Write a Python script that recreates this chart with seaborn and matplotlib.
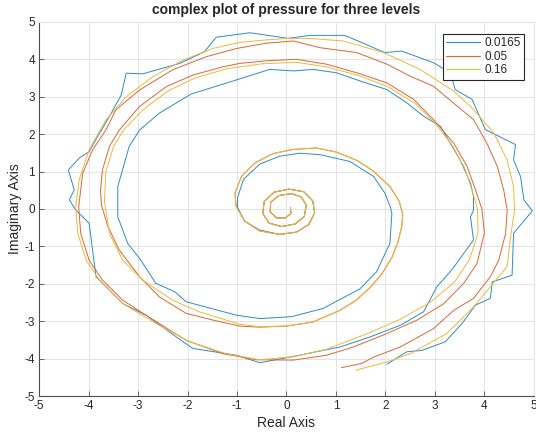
import numpy as np
import pandas as pd
import matplotlib
matplotlib.use('Agg')
import matplotlib.pyplot as plt
import seaborn as sns

# 스타일 설정 (MATLAB 비슷하게)
sns.set_theme(style="whitegrid")
plt.rcParams['font.family'] = ['Liberation Sans', 'DejaVu Sans']
plt.rcParams['axes.unicode_minus'] = False

# --- 데이터: 그림에서 읽은 점들 ---
levels = ['0.0165', '0.05', '0.16']
colors = ['#2f8ac6', '#dc6536', '#edb93a']

# 세 곡선이 공유하는 안쪽 작은 고리 (중심 끝점에서 바깥으로)
core_x = [0.08, 0.09, -0.02, -0.20, -0.33, -0.32, -0.15, 0.10, 0.30, 0.40, 0.36, 0.18, -0.10, -0.35,
          -0.48, -0.45, -0.25, 0.05, 0.35, 0.53, 0.57, 0.45, 0.20, -0.14]
core_y = [0.03, -0.12, -0.24, -0.24, -0.08, 0.18, 0.36, 0.41, 0.32, 0.10, -0.20, -0.40, -0.47, -0.38,
          -0.12, 0.20, 0.45, 0.53, 0.46, 0.22, -0.10, -0.42, -0.62, -0.68]

blue_x = [-0.55, -0.85, -0.99, -0.99, -0.87, -0.54, -0.14, 0.27, 0.68, 1.28, 1.76, 1.99, 2.10, 2.13,
          2.09, 1.82, 1.49, 0.74, 0.10, -0.54, -1.01, -2.03, -2.26, -2.64, -2.97, -3.21, -3.41, -3.41,
          -3.18, -2.97, -2.57, -1.93, -1.01, -0.34, 0.14, 0.54, 1.01, 1.49, 2.03, 2.43, 2.77, 3.11,
          3.31, 3.51, 3.72, 3.78, 3.78, 3.72, 3.78, 3.34, 3.04, 2.77, 2.30, 1.69, 1.08, 0.07, -0.54,
          -1.01, -1.89, -2.09, -2.84, -3.31, -3.85, -3.99, -4.26, -4.39, -4.29, -4.41, -4.19, -3.99,
          -3.82, -3.58, -3.34, -3.24, -2.91, -2.16, -1.66, -1.42, -0.74, 0.03, 0.47, 1.18, 1.99, 2.33,
          2.97, 3.31, 3.41, 3.75, 4.02, 4.63, 4.59, 4.73, 4.80, 4.97, 4.59, 4.56, 4.16, 4.12, 3.82,
          3.55, 3.21, 2.74, 2.43, 2.03]
blue_y = [-0.56, -0.32, 0.05, 0.30, 0.79, 1.20, 1.41, 1.49, 1.45, 1.27, 0.87, 0.42, 0.05, -0.12,
          -0.92, -1.68, -2.13, -2.66, -2.88, -2.93, -2.84, -2.48, -2.21, -1.99, -1.32, -0.92, -0.21, 0.60,
          1.67, 2.11, 2.56, 3.07, 3.45, 3.73, 3.69, 3.73, 3.64, 3.42, 3.19, 2.84, 2.48, 2.21,
          1.76, 1.31, 0.69, 0.33, -0.03, -0.21, -0.83, -1.63, -2.08, -2.75, -3.11, -3.42, -3.69, -3.96, -4.11,
          -3.91, -3.73, -3.55, -2.84, -2.53, -1.81, -0.38, -0.03, 0.24, 0.51, 1.04, 1.36, 1.53,
          1.93, 2.47, 3.05, 3.63, 3.61, 3.89, 4.20, 4.59, 4.71, 4.56, 4.64, 4.64, 4.18, 4.22,
          3.91, 3.64, 3.19, 2.93, 2.12, 1.72, 1.31, 0.87, 0.24, -0.05, -0.65, -1.77, -1.95, -2.39, -2.57,
          -3.06, -3.55, -3.78, -3.82, -4.15]

orange_x = [-0.54, -0.84, -1.02, -1.04, -0.91, -0.64, -0.27, 0.13, 0.60, 1.01, 1.42, 1.75, 2.09, 2.28,
            2.35, 2.33, 2.25, 2.13, 1.92, 1.69, 1.40, 1.08, 0.54, 0.00, -0.54, -0.95, -1.49, -2.03, -2.57,
            -2.97, -3.38, -3.61, -3.74, -3.76, -3.72, -3.58, -3.38, -2.97, -2.43, -1.89, -1.28, -0.95,
            -0.41, 0.20, 0.81, 1.42, 2.03, 2.57, 2.97, 3.38, 3.65, 3.82, 3.95, 4.00, 3.85, 3.58, 3.18,
            2.64, 2.03, 1.35, 0.81, 0.14, -0.61, -1.28, -2.03, -2.84, -3.31, -3.72, -3.99, -4.16, -4.20,
            -4.12, -3.92, -3.65, -3.45, -2.97, -2.30, -1.62, -1.01, -0.41, 0.14, 0.68, 1.42, 2.03, 2.50,
            2.97, 3.45, 3.78, 4.05, 4.26, 4.39, 4.46, 4.43, 4.29, 4.12, 3.78, 3.38, 2.97, 2.30, 1.76,
            1.52, 1.11]
orange_y = [-0.59, -0.33, 0.07, 0.43, 0.87, 1.23, 1.48, 1.59, 1.63, 1.52, 1.30, 1.02, 0.60, 0.20,
            -0.15, -0.47, -0.90, -1.30, -1.75, -2.10, -2.45, -2.71, -3.02, -3.13, -3.16, -3.13, -2.97, -2.79, -2.35,
            -1.81, -1.10, -0.47, 0.10, 0.50, 1.04, 1.67, 2.11, 2.74, 3.27, 3.58, 3.80, 3.89,
            3.96, 4.00, 3.87, 3.64, 3.37, 2.93, 2.39, 1.76, 1.14, 0.51, 0.00, -0.65, -1.46, -1.99, -2.53,
            -2.97, -3.33, -3.69, -3.91, -4.04, -4.03, -3.87, -3.51, -2.84, -2.44, -1.90, -1.37, -0.65, 0.06,
            0.95, 1.58, 2.11, 2.65, 3.18, 3.72, 4.07, 4.29, 4.43, 4.49, 4.31, 4.18, 3.87, 3.55,
            3.28, 2.75, 2.39, 1.76, 1.14, 0.51, -0.03, -0.65, -1.37, -1.81, -2.39, -2.71, -3.20, -3.69, -3.96,
            -4.13, -4.24]

yellow_x = [-0.54, -0.84, -1.02, -1.04, -0.91, -0.64, -0.27, 0.13, 0.60, 1.01, 1.42, 1.75, 2.09, 2.28,
            2.35, 2.33, 2.25, 2.13, 1.92, 1.69, 1.40, 1.08, 0.54, 0.00, -0.54, -0.95, -1.76, -2.30, -2.91,
            -3.31, -3.58, -3.68, -3.65, -3.50, -3.30, -2.90, -2.40, -1.85, -1.20, -0.50, 0.20, 0.80,
            1.45, 2.05, 2.60, 3.00, 3.35, 3.60, 3.75, 3.86, 3.87, 3.70, 3.40, 2.90, 2.30, 1.60, 0.81,
            0.14, -0.54, -1.22, -1.96, -2.64, -3.31, -3.78, -4.05, -4.22, -4.26, -4.19, -3.99, -3.65,
            -3.24, -2.70, -2.09, -1.49, -0.95, -0.41, 0.07, 0.47, 1.15, 1.96, 2.70, 3.38, 3.78, 4.19,
            4.46, 4.59, 4.61, 4.53, 4.46, 4.12, 3.78, 3.24, 2.50, 2.03, 1.40]
yellow_y = [-0.59, -0.33, 0.07, 0.43, 0.87, 1.23, 1.48, 1.59, 1.63, 1.52, 1.30, 1.02, 0.60, 0.20,
            -0.15, -0.47, -0.90, -1.30, -1.75, -2.10, -2.45, -2.71, -3.02, -3.13, -3.15, -3.08, -2.75, -2.44, -1.90,
            -1.37, -0.65, 0.20, 1.00, 1.65, 2.10, 2.65, 3.15, 3.50, 3.75, 3.88, 3.92, 3.80,
            3.57, 3.27, 2.82, 2.30, 1.70, 1.10, 0.50, 0.00, -0.65, -1.35, -1.95, -2.50, -2.95, -3.35, -3.75,
            -3.95, -4.03, -3.87, -3.55, -3.06, -2.53, -1.90, -1.37, -0.65, 0.05, 0.78, 1.58, 2.38,
            3.00, 3.54, 3.98, 4.29, 4.45, 4.52, 4.56, 4.56, 4.49, 4.18, 3.73, 3.15, 2.66, 2.03,
            1.31, 0.60, -0.03, -0.74, -1.54, -2.08, -2.62, -3.33, -3.87, -4.09, -4.31]

series_x = [blue_x, orange_x, yellow_x]
series_y = [blue_y, orange_y, yellow_y]

frames = []
for lev, sx, sy in zip(levels, series_x, series_y):
    frames.append(pd.DataFrame({'re': core_x + sx, 'im': core_y + sy, 'level': lev}))
df = pd.concat(frames, ignore_index=True)

# --- 그래프 ---
fig = plt.figure(figsize=(5.36, 4.32), dpi=100)
ax = fig.add_axes([0.073, 0.0833, 0.923, 0.866])
sns.lineplot(data=df, x='re', y='im', hue='level', hue_order=levels,
             palette=colors, sort=False, estimator=None, linewidth=0.7, ax=ax)

ax.set_xlim(-5, 5)
ax.set_ylim(-5, 5)
ax.set_xticks(np.arange(-5, 6, 1))
ax.set_yticks(np.arange(-5, 6, 1))
ax.grid(True, color='#e3e3e3', linewidth=0.7)
ax.set_facecolor('white')
for side in ['left', 'bottom']:
    ax.spines[side].set_color('#4d4d4d')
    ax.spines[side].set_linewidth(0.8)
for side in ['top', 'right']:
    ax.spines[side].set_color('#e3e3e3')
    ax.spines[side].set_linewidth(0.7)
ax.tick_params(direction='in', length=3.5, width=0.6, color='#4d4d4d',
               labelsize=8.5, labelcolor='#262626', pad=3, bottom=True, left=True)

ax.set_title('complex plot of pressure for three levels', fontsize=10, fontweight='bold', pad=6)
ax.set_xlabel('Real Axis', fontsize=10, color='#262626', labelpad=3)
ax.set_ylabel('Imaginary Axis', fontsize=10, color='#262626', labelpad=2)

leg = ax.legend(loc='upper right', bbox_to_anchor=(0.981, 0.968), fontsize=8.5, frameon=True,
                fancybox=False, handlelength=2.9, borderpad=0.3, labelspacing=0.12, handletextpad=0.35,
                borderaxespad=0)
leg.get_frame().set_edgecolor('#262626')
leg.get_frame().set_linewidth(0.8)
leg.get_frame().set_alpha(1)
for line in leg.get_lines():
    line.set_linewidth(0.8)

plt.savefig('out.png', dpi=100)
